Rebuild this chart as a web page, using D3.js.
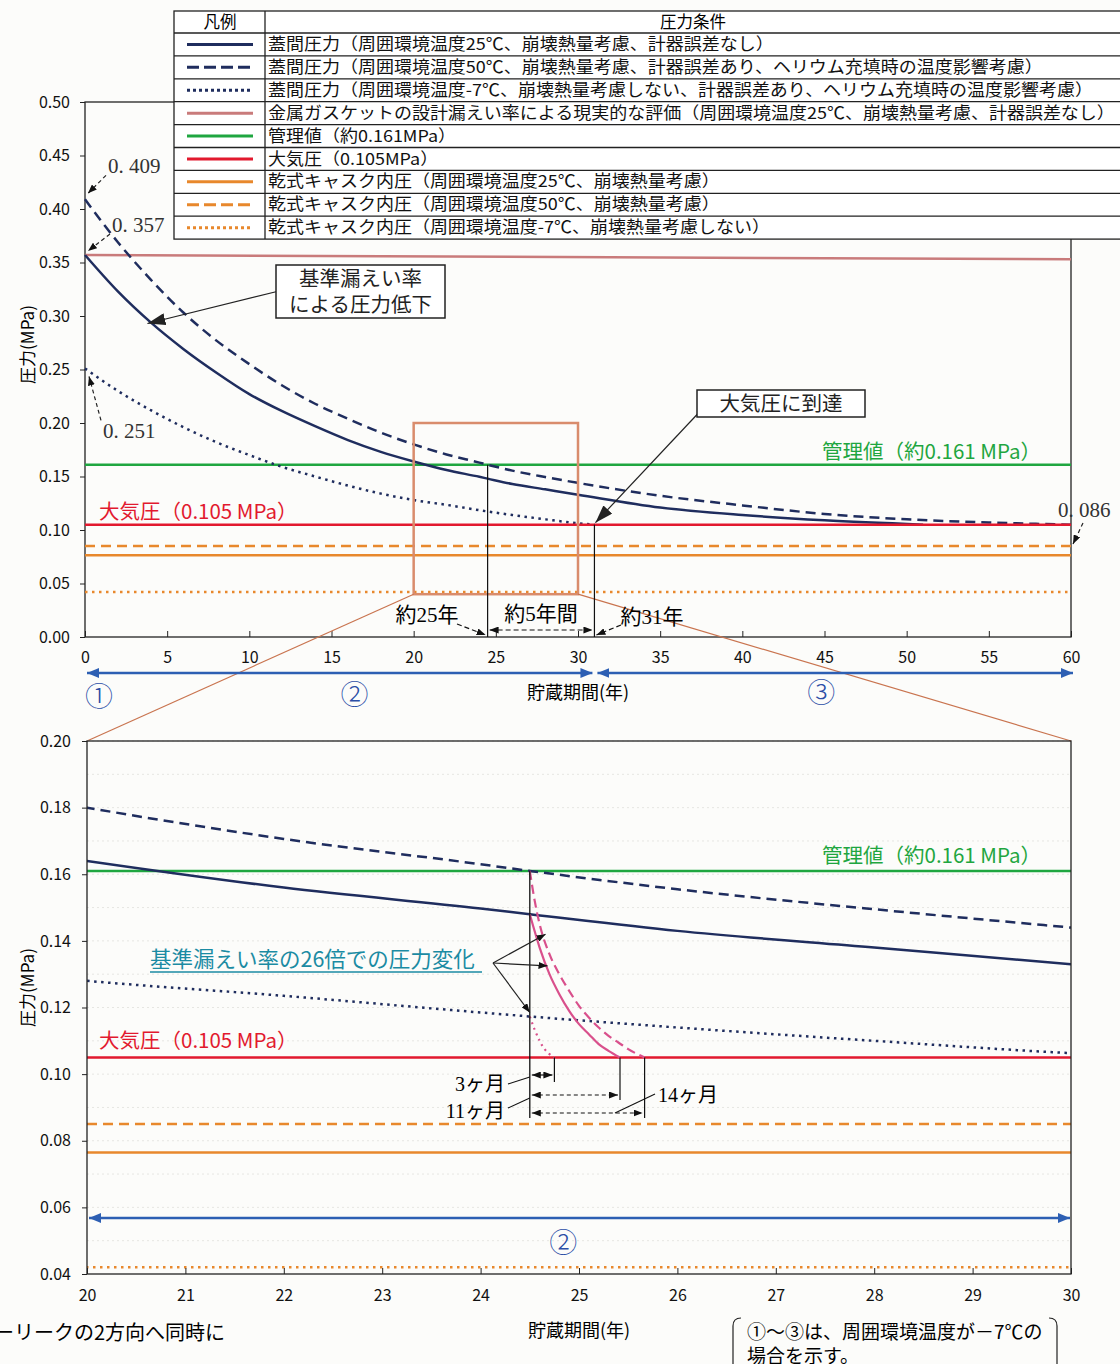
<!DOCTYPE html>
<html>
<head>
<meta charset="utf-8">
<script src="https://cdn.jsdelivr.net/npm/d3@7"></script>
<style>
  body { margin: 0; background: #fcfcfa; }
  svg { display: block; }
  text { font-family: "Noto Sans CJK JP", sans-serif; }
  .serif { font-family: "Liberation Serif", "Noto Sans CJK JP", serif; }
</style>
</head>
<body>
<div id="frame_div"></div>
<script>
// chart data

// lid-space pressure, 25C ambient (solid navy)
const YR_25 = [0, 2, 4, 6, 8, 10, 12, 14, 16, 18, 20, 22, 24, 24.5, 26, 28, 30, 35, 40, 45, 51];
const P_25  = [0.357, 0.323, 0.294, 0.269, 0.247, 0.227, 0.211, 0.197, 0.184, 0.173, 0.164, 0.156, 0.1497, 0.148, 0.143, 0.138, 0.133, 0.121, 0.114, 0.109, 0.105];

// lid-space pressure, 50C ambient (dashed navy)
const YR_50 = [0, 2, 4, 6, 8, 10, 12, 14, 16, 18, 20, 22, 24, 24.5, 26, 28, 30, 35, 40, 45, 50, 55, 60];
const P_50  = [0.409, 0.369, 0.334, 0.303, 0.277, 0.255, 0.235, 0.218, 0.204, 0.191, 0.180, 0.1706, 0.163, 0.161, 0.1555, 0.1495, 0.144, 0.132, 0.123, 0.115, 0.110, 0.107, 0.105];

// lid-space pressure, -7C ambient (dotted navy)
const YR_M7 = [0, 2, 4, 6, 8, 10, 12, 14, 16, 18, 20, 22, 24, 24.5, 26, 28, 30, 31];
const P_M7  = [0.251, 0.230, 0.212, 0.196, 0.182, 0.170, 0.159, 0.150, 0.1415, 0.134, 0.128, 0.1235, 0.1185, 0.1173, 0.114, 0.110, 0.1063, 0.105];

// realistic gasket leak evaluation
const YR_GASKET = [0, 60];
const P_GASKET  = [0.357, 0.353];

// constant levels
const P_KANRI  = 0.161;   // 管理値
const P_ATM    = 0.105;   // 大気圧
const P_CASK25 = 0.0765;
const P_CASK50 = 0.085;
const P_CASKM7 = 0.042;

// 26x leak rate curves, starting at 24.5 years
const START_YR = 24.5;
const MONTHS = [3, 11, 14];
const YR_X26_25 = [24.5, 24.6, 24.7, 24.8, 24.9, 25.0, 25.1, 25.2, 25.3, 25.417];
const P_X26_25  = [0.148, 0.138, 0.130, 0.124, 0.119, 0.115, 0.112, 0.109, 0.107, 0.105];
const YR_X26_50 = [24.5, 24.55, 24.6, 24.7, 24.8, 24.9, 25.0, 25.1, 25.2, 25.3, 25.4, 25.5, 25.667];
const P_X26_50  = [0.161, 0.152, 0.145, 0.136, 0.130, 0.125, 0.1205, 0.117, 0.114, 0.1115, 0.1095, 0.1075, 0.105];
const YR_X26_M7 = [24.5, 24.55, 24.6, 24.65, 24.7, 24.75];
const P_X26_M7  = [0.1173, 0.1133, 0.110, 0.1075, 0.106, 0.105];

// value callouts
const START_VALUES = [0.409, 0.357, 0.251];
const END_VALUE = 0.086;

// ticks
const TOP_X_TICKS = d3.range(0, 61, 5);
const TOP_Y_TICKS = d3.range(0, 0.501, 0.05);
const BOT_X_TICKS = d3.range(20, 31, 1);
const BOT_Y_TICKS = d3.range(0.04, 0.2001, 0.02);

const LEGEND_LABELS = [
  "蓋間圧力（周囲環境温度25℃、崩壊熱量考慮、計器誤差なし）",
  "蓋間圧力（周囲環境温度50℃、崩壊熱量考慮、計器誤差あり、ヘリウム充填時の温度影響考慮）",
  "蓋間圧力（周囲環境温度-7℃、崩壊熱量考慮しない、計器誤差あり、ヘリウム充填時の温度影響考慮）",
  "金属ガスケットの設計漏えい率による現実的な評価（周囲環境温度25℃、崩壊熱量考慮、計器誤差なし）",
  "管理値（約0.161MPa）",
  "大気圧（0.105MPa）",
  "乾式キャスク内圧（周囲環境温度25℃、崩壊熱量考慮）",
  "乾式キャスク内圧（周囲環境温度50℃、崩壊熱量考慮）",
  "乾式キャスク内圧（周囲環境温度-7℃、崩壊熱量考慮しない）"
];

// styles
const NAVY = "#1f2d5e", ROSE = "#c97b7b", GREEN = "#1fa640", RED = "#e2192e",
      ORANGE = "#e8882c", PINK = "#d9508c", BLUE = "#2d5fb3", SALMON = "#d98c6c", TEAL = "#1b8ba3";
const DASH = "10,6", DOT = "2.5,4.5";
const LEGEND_STYLES = [
  [NAVY, null], [NAVY, "12,5"], [NAVY, "3,3"], [ROSE, null], [GREEN, null],
  [RED, null], [ORANGE, null], [ORANGE, "12,5"], [ORANGE, "3,3"]
];

const FRAME_WIDTH = 1120, FRAME_HEIGHT = 1364;

const svg = d3.select("#frame_div").append("svg")
  .attr("width", FRAME_WIDTH).attr("height", FRAME_HEIGHT);

// markers
const defs = svg.append("defs");
function marker(id, w, h, color) {
  defs.append("marker").attr("id", id)
    .attr("markerUnits", "userSpaceOnUse")
    .attr("viewBox", `0 0 ${w} ${h}`)
    .attr("markerWidth", w).attr("markerHeight", h)
    .attr("refX", w).attr("refY", h / 2)
    .attr("orient", "auto-start-reverse")
    .append("path").attr("d", `M0,0L${w},${h / 2}L0,${h}Z`).attr("fill", color);
}
marker("tri", 18, 12, "#222");
marker("sm", 9, 7, "#111");
marker("blue", 12, 10, BLUE);

// scales
const X_TOP = d3.scaleLinear().domain([0, 60]).range([85, 1071]);
const Y_TOP = d3.scaleLinear().domain([0, 0.5]).range([637, 102]);
const X_BOT = d3.scaleLinear().domain([20, 30]).range([87, 1071]);
const Y_BOT = d3.scaleLinear().domain([0.04, 0.20]).range([1274, 741]);

function zipSeries(xs, ys) { return xs.map((d, i) => [d, ys[i]]); }

function drawPanel(g, xs, ys, withPink) {
  const line = d3.line().x(d => xs(d[0])).y(d => ys(d[1])).curve(d3.curveMonotoneX);
  const path = (data, color, dash, w) => g.append("path")
    .datum(data).attr("d", line)
    .attr("fill", "none").attr("stroke", color).attr("stroke-width", w || 2.5)
    .attr("stroke-dasharray", dash);
  const flat = v => [[0, v], [60, v]];

  path(flat(P_CASKM7), ORANGE, DOT);
  path(flat(P_CASK25), ORANGE, null);
  path(flat(P_CASK50), ORANGE, DASH);
  path(zipSeries(YR_GASKET, P_GASKET), ROSE, null);
  path(flat(P_KANRI), GREEN, null);
  path(zipSeries(YR_M7, P_M7), NAVY, DOT);
  path(zipSeries(YR_25, P_25), NAVY, null);
  path(zipSeries(YR_50, P_50), NAVY, DASH);
  path(flat(P_ATM), RED, null);
  if (withPink) {
    path(zipSeries(YR_X26_M7, P_X26_M7), PINK, "2,4", 2.2);
    path(zipSeries(YR_X26_25, P_X26_25), PINK, null, 2.2);
    path(zipSeries(YR_X26_50, P_X26_50), PINK, "9,5", 2.2);
  }
}

function styleAxis(a) {
  a.select(".domain").remove();
  a.selectAll("text").attr("font-size", 16).attr("fill", "#111")
    .attr("font-family", "Liberation Sans, Arial, sans-serif");
  a.selectAll("line").attr("stroke", "#222");
}

// ================= top chart =================
const topG = svg.append("g");

topG.append("rect").attr("x", X_TOP(0)).attr("y", Y_TOP(0.5))
  .attr("width", X_TOP(60) - X_TOP(0)).attr("height", Y_TOP(0) - Y_TOP(0.5))
  .attr("fill", "none").attr("stroke", "#222").attr("stroke-width", 1.3);

drawPanel(topG, X_TOP, Y_TOP, false);

styleAxis(topG.append("g")
  .attr("transform", `translate(0,${Y_TOP(0)})`)
  .call(d3.axisBottom(X_TOP).tickValues(TOP_X_TICKS).tickSizeInner(-6).tickSizeOuter(0).tickPadding(15)));
styleAxis(topG.append("g")
  .attr("transform", `translate(${X_TOP(0)},0)`)
  .call(d3.axisLeft(Y_TOP).tickValues(TOP_Y_TICKS).tickFormat(d3.format(".2f")).tickSize(5).tickPadding(10)));

topG.append("text").attr("transform", `translate(34,${(Y_TOP(0) + Y_TOP(0.5)) / 2 - 25}) rotate(-90)`)
  .attr("text-anchor", "middle").attr("font-size", 17).text("圧力(MPa)");

// zoom rectangle and connectors
topG.append("rect").attr("x", X_TOP(20)).attr("y", Y_TOP(0.2))
  .attr("width", X_TOP(30) - X_TOP(20)).attr("height", Y_TOP(0.04) - Y_TOP(0.2))
  .attr("fill", "none").attr("stroke", SALMON).attr("stroke-width", 2.5);
topG.append("line").attr("x1", X_TOP(20)).attr("y1", Y_TOP(0.04)).attr("x2", X_BOT(20)).attr("y2", Y_BOT(0.2))
  .attr("stroke", "#c9744f").attr("stroke-width", 1.2);
topG.append("line").attr("x1", X_TOP(30)).attr("y1", Y_TOP(0.04)).attr("x2", X_BOT(30)).attr("y2", Y_BOT(0.2))
  .attr("stroke", "#c9744f").attr("stroke-width", 1.2);

// start / end value callouts
const valOffsets = [[23, -26, 3, -6], [27, -23, 3, -4], [18, 70, 4, 8]];
START_VALUES.forEach((v, i) => {
  const [tx, ty, ax, ay] = valOffsets[i];
  topG.append("text").attr("class", "serif").attr("x", X_TOP(0) + tx).attr("y", Y_TOP(v) + ty)
    .attr("font-size", 21).attr("fill", "#333").text("0. " + String(v).slice(2));
  const sx = X_TOP(0) + tx - 2, sy = i < 2 ? Y_TOP(v) + ty + 2 : Y_TOP(v) + ty - 18;
  topG.append("line").attr("x1", sx).attr("y1", sy).attr("x2", X_TOP(0) + ax).attr("y2", Y_TOP(v) + ay)
    .attr("stroke", "#222").attr("stroke-width", 1.2).attr("stroke-dasharray", "4,3")
    .attr("marker-end", "url(#sm)");
});
topG.append("text").attr("class", "serif").attr("x", X_TOP(60) - 13).attr("y", Y_TOP(END_VALUE) - 28)
  .attr("font-size", 21).attr("fill", "#333").text("0. 086");
topG.append("line").attr("x1", X_TOP(60) + 12).attr("y1", Y_TOP(END_VALUE) - 22)
  .attr("x2", X_TOP(60) + 2).attr("y2", Y_TOP(END_VALUE) - 1)
  .attr("stroke", "#222").attr("stroke-width", 1.2).attr("stroke-dasharray", "4,3").attr("marker-end", "url(#sm)");

// level labels
topG.append("text").attr("x", X_TOP(0) + 14).attr("y", Y_TOP(P_ATM) - 6)
  .attr("font-size", 20.5).attr("fill", RED).text("大気圧（0.105 MPa）");
topG.append("text").attr("x", X_TOP(60) - 30).attr("y", Y_TOP(P_KANRI) - 6)
  .attr("text-anchor", "end").attr("font-size", 20.5).attr("fill", GREEN).text("管理値（約0.161 MPa）");

// callout boxes
function callout(g, x, y, w, h, lines, tip) {
  g.append("line").attr("x1", x + 1).attr("y1", y + h / 2 + (lines.length > 1 ? 0 : 10))
    .attr("x2", tip[0]).attr("y2", tip[1]).attr("stroke", "#222").attr("stroke-width", 1.2)
    .attr("marker-end", "url(#tri)");
  g.append("rect").attr("x", x).attr("y", y).attr("width", w).attr("height", h)
    .attr("fill", "#fff").attr("stroke", "#222").attr("stroke-width", 1.5);
  const step = h / lines.length;
  lines.forEach((t, i) => g.append("text").attr("x", x + w / 2).attr("y", y + step * i + step / 2 + 7.5)
    .attr("text-anchor", "middle").attr("font-size", 20.5).attr("fill", "#222").text(t));
}
callout(topG, 276, 265, 169, 53, ["基準漏えい率", "による圧力低下"], [X_TOP(3.8), Y_TOP(0.293)]);
callout(topG, 697, 390, 168, 27, ["大気圧に到達"], [X_TOP(31) + 1, Y_TOP(P_ATM) - 2]);

// dimension lines
const x245 = X_TOP(START_YR), x31 = X_TOP(31);
topG.append("line").attr("x1", x245).attr("x2", x245).attr("y1", Y_TOP(P_KANRI)).attr("y2", Y_TOP(0))
  .attr("stroke", "#111").attr("stroke-width", 1.2);
topG.append("line").attr("x1", x31).attr("x2", x31).attr("y1", Y_TOP(P_ATM)).attr("y2", Y_TOP(0))
  .attr("stroke", "#111").attr("stroke-width", 1.2);
topG.append("line").attr("x1", x245 + 2).attr("x2", x31 - 2).attr("y1", Y_TOP(0) - 7).attr("y2", Y_TOP(0) - 7)
  .attr("stroke", "#111").attr("stroke-width", 1.2).attr("stroke-dasharray", "5,3")
  .attr("marker-start", "url(#sm)").attr("marker-end", "url(#sm)");
topG.append("text").attr("class", "serif").attr("x", 427).attr("y", Y_TOP(0) - 15)
  .attr("text-anchor", "middle").attr("font-size", 21).text("約25年");
topG.append("line").attr("x1", 457).attr("y1", Y_TOP(0) - 13).attr("x2", x245 - 2).attr("y2", Y_TOP(0) - 2)
  .attr("stroke", "#111").attr("stroke-width", 1.2).attr("stroke-dasharray", "5,3").attr("marker-end", "url(#sm)");
topG.append("text").attr("class", "serif").attr("x", (x245 + x31) / 2).attr("y", Y_TOP(0) - 16)
  .attr("text-anchor", "middle").attr("font-size", 21).text("約5年間");
topG.append("text").attr("class", "serif").attr("x", 652).attr("y", Y_TOP(0) - 13)
  .attr("text-anchor", "middle").attr("font-size", 21).text("約31年");
topG.append("line").attr("x1", 621).attr("y1", Y_TOP(0) - 12).attr("x2", x31 + 2).attr("y2", Y_TOP(0) - 2)
  .attr("stroke", "#111").attr("stroke-width", 1.2).attr("stroke-dasharray", "5,3").attr("marker-end", "url(#sm)");

// period arrows
const arrowY = 673;
topG.append("line").attr("x1", X_TOP(0) + 2).attr("x2", x31 - 2).attr("y1", arrowY).attr("y2", arrowY)
  .attr("stroke", BLUE).attr("stroke-width", 2.5).attr("marker-start", "url(#blue)").attr("marker-end", "url(#blue)");
topG.append("line").attr("x1", x31 + 3).attr("x2", X_TOP(60) + 2).attr("y1", arrowY).attr("y2", arrowY)
  .attr("stroke", BLUE).attr("stroke-width", 2.5).attr("marker-start", "url(#blue)").attr("marker-end", "url(#blue)");
[["①", 0.85, 707], ["②", 16.4, 705], ["③", 44.8, 703]].forEach(([t, yr, y]) =>
  topG.append("text").attr("x", X_TOP(yr)).attr("y", y).attr("text-anchor", "middle")
    .attr("font-size", 28).attr("font-weight", 300).attr("fill", "#2b4ea6").text(t));
topG.append("text").attr("x", X_TOP(30)).attr("y", 699).attr("text-anchor", "middle")
  .attr("font-size", 18).text("貯蔵期間(年)");

// ================= legend =================
const lg = svg.append("g").attr("transform", "translate(174,11)");
const LW = 948, HEAD = 22, ROW = 22.9;
lg.append("rect").attr("width", LW).attr("height", HEAD + ROW * LEGEND_LABELS.length)
  .attr("fill", "#fff").attr("stroke", "#222").attr("stroke-width", 1.3);
lg.append("line").attr("x1", 91).attr("x2", 91).attr("y1", 0).attr("y2", HEAD + ROW * LEGEND_LABELS.length)
  .attr("stroke", "#222").attr("stroke-width", 1.3);
lg.append("text").attr("x", 46).attr("y", 17).attr("text-anchor", "middle").attr("font-size", 16.5).text("凡例");
lg.append("text").attr("x", 519).attr("y", 17).attr("text-anchor", "middle").attr("font-size", 16.5).text("圧力条件");
LEGEND_LABELS.forEach((label, i) => {
  const y0 = HEAD + ROW * i;
  lg.append("line").attr("x1", 0).attr("x2", LW).attr("y1", y0).attr("y2", y0)
    .attr("stroke", "#222").attr("stroke-width", 1.3);
  const [c, dash] = LEGEND_STYLES[i];
  lg.append("line").attr("x1", 13).attr("x2", 79).attr("y1", y0 + ROW / 2).attr("y2", y0 + ROW / 2)
    .attr("stroke", c).attr("stroke-width", 3).attr("stroke-dasharray", dash);
  lg.append("text").attr("transform", `translate(94,${y0 + 17}) scale(1.085,1)`)
    .attr("font-size", 16.6).attr("fill", "#111").text(label);
});

// ================= bottom chart =================
const botG = svg.append("g");
defs.append("clipPath").attr("id", "botclip").append("rect")
  .attr("x", X_BOT(20)).attr("y", Y_BOT(0.2)).attr("width", X_BOT(30) - X_BOT(20)).attr("height", Y_BOT(0.04) - Y_BOT(0.2));

// faint grid
botG.append("g").selectAll("line").data(d3.range(0.05, 0.2, 0.01)).join("line")
  .attr("x1", X_BOT(20)).attr("x2", X_BOT(30)).attr("y1", d => Y_BOT(d)).attr("y2", d => Y_BOT(d))
  .attr("stroke", "#e6e6e2").attr("stroke-width", 1).attr("stroke-dasharray", "2,3");

const botPlot = botG.append("g").attr("clip-path", "url(#botclip)");
drawPanel(botPlot, X_BOT, Y_BOT, true);

botG.append("rect").attr("x", X_BOT(20)).attr("y", Y_BOT(0.2))
  .attr("width", X_BOT(30) - X_BOT(20)).attr("height", Y_BOT(0.04) - Y_BOT(0.2))
  .attr("fill", "none").attr("stroke", "#222").attr("stroke-width", 1.3);

styleAxis(botG.append("g")
  .attr("transform", `translate(0,${Y_BOT(0.04)})`)
  .call(d3.axisBottom(X_BOT).tickValues(BOT_X_TICKS).tickSizeInner(-6).tickSizeOuter(0).tickPadding(16)));
styleAxis(botG.append("g")
  .attr("transform", `translate(${X_BOT(20)},0)`)
  .call(d3.axisLeft(Y_BOT).tickValues(BOT_Y_TICKS).tickFormat(d3.format(".2f")).tickSize(5).tickPadding(11)));
botG.append("text").attr("transform", `translate(34,${(Y_BOT(0.04) + Y_BOT(0.2)) / 2 - 20}) rotate(-90)`)
  .attr("text-anchor", "middle").attr("font-size", 17).text("圧力(MPa)");
botG.append("text").attr("x", X_BOT(25)).attr("y", 1337).attr("text-anchor", "middle")
  .attr("font-size", 18).text("貯蔵期間(年)");

botG.append("text").attr("x", X_BOT(20) + 12).attr("y", Y_BOT(P_ATM) - 9)
  .attr("font-size", 20.5).attr("fill", RED).text("大気圧（0.105 MPa）");
botG.append("text").attr("x", X_BOT(30) - 30).attr("y", Y_BOT(P_KANRI) - 8)
  .attr("text-anchor", "end").attr("font-size", 20.5).attr("fill", GREEN).text("管理値（約0.161 MPa）");

// blue period arrow
botG.append("line").attr("x1", X_BOT(20) + 2).attr("x2", X_BOT(30) - 1).attr("y1", 1218).attr("y2", 1218)
  .attr("stroke", BLUE).attr("stroke-width", 2.5).attr("marker-start", "url(#blue)").attr("marker-end", "url(#blue)");
botG.append("text").attr("x", X_BOT(24.84)).attr("y", 1253).attr("text-anchor", "middle")
  .attr("font-size", 28).attr("font-weight", 300).attr("fill", "#2b4ea6").text("②");

// leak-rate annotation
const sx = X_BOT(START_YR);
botG.append("line").attr("x1", sx).attr("x2", sx).attr("y1", Y_BOT(P_KANRI)).attr("y2", 1118)
  .attr("stroke", "#111").attr("stroke-width", 1.3);
botG.append("text").attr("x", 150).attr("y", 967).attr("font-size", 21.5).attr("fill", TEAL)
  .text("基準漏えい率の26倍での圧力変化");
botG.append("line").attr("x1", 150).attr("x2", 482).attr("y1", 972).attr("y2", 972)
  .attr("stroke", TEAL).attr("stroke-width", 1.3);
const org = [493, 963];
[[X_BOT(24.66), Y_BOT(0.142)], [X_BOT(24.68), Y_BOT(0.1325)], [sx, Y_BOT(0.1185)]].forEach(t =>
  botG.append("line").attr("x1", org[0]).attr("y1", org[1]).attr("x2", t[0]).attr("y2", t[1])
    .attr("stroke", "#222").attr("stroke-width", 1.2).attr("marker-end", "url(#sm)"));

// month dimensions
const dimY = [1075, 1095, 1113];
const tickEnd = [1082, 1100, 1118];
MONTHS.forEach((m, i) => {
  const ex = X_BOT(START_YR + m / 12);
  botG.append("line").attr("x1", ex).attr("x2", ex).attr("y1", Y_BOT(P_ATM)).attr("y2", tickEnd[i])
    .attr("stroke", "#111").attr("stroke-width", 1.2);
  botG.append("line").attr("x1", sx + 2).attr("x2", ex - 2).attr("y1", dimY[i]).attr("y2", dimY[i])
    .attr("stroke", "#111").attr("stroke-width", 1.2).attr("stroke-dasharray", i === 0 ? null : "4,3")
    .attr("marker-start", "url(#sm)").attr("marker-end", "url(#sm)");
});
botG.append("text").attr("class", "serif").attr("x", 505).attr("y", 1091).attr("text-anchor", "end")
  .attr("font-size", 20).text("3ヶ月");
botG.append("line").attr("x1", 508).attr("y1", 1084).attr("x2", sx).attr("y2", 1077).attr("stroke", "#111").attr("stroke-width", 1.1);
botG.append("text").attr("class", "serif").attr("x", 505).attr("y", 1118).attr("text-anchor", "end")
  .attr("font-size", 20).text("11ヶ月");
botG.append("line").attr("x1", 508).attr("y1", 1108).attr("x2", sx).attr("y2", 1098).attr("stroke", "#111").attr("stroke-width", 1.1);
botG.append("text").attr("class", "serif").attr("x", 658).attr("y", 1102)
  .attr("font-size", 20).text("14ヶ月");
botG.append("line").attr("x1", 655).attr("y1", 1094).attr("x2", 615).attr("y2", 1113).attr("stroke", "#111").attr("stroke-width", 1.1);

// ================= footer =================
svg.append("text").attr("x", -6).attr("y", 1340).attr("font-size", 20).text("ーリークの2方向へ同時に");
svg.append("path").attr("d", "M741,1318 Q733,1318 733,1326 L733,1364").attr("fill", "none").attr("stroke", "#222").attr("stroke-width", 1.2);
svg.append("path").attr("d", "M1049,1318 Q1057,1318 1057,1326 L1057,1364").attr("fill", "none").attr("stroke", "#222").attr("stroke-width", 1.2);
svg.append("text").attr("x", 747).attr("y", 1339).attr("font-size", 19).text("①～③は、周囲環境温度が－7℃の");
svg.append("text").attr("x", 747).attr("y", 1363).attr("font-size", 19).text("場合を示す。");
</script>
</body>
</html>
